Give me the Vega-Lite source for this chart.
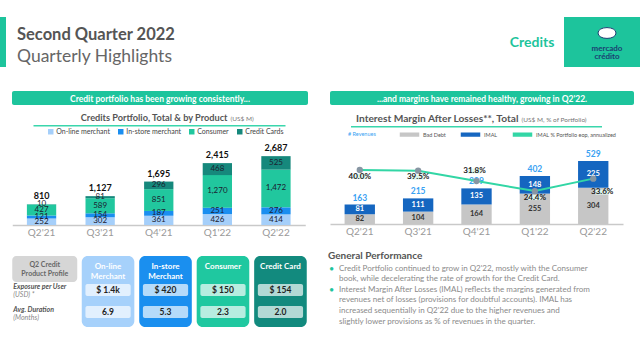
{
  "$schema": "https://vega.github.io/schema/vega-lite/v6.json",
  "padding": {"left": 0, "top": 17, "right": 0, "bottom": 0},
  "background": "white",
  "config": {"view": {"stroke": null}, "font": "Lato"},
  "resolve": {"scale": {"color": "independent", "fill": "independent"}, "legend": {"color": "independent", "fill": "independent"}},
  "spacing": 20,
  "vconcat": [
    {
      "spacing": 0,
      "resolve": {"scale": {"color": "independent", "fill": "independent"}, "legend": {"color": "independent", "fill": "independent"}},
      "hconcat": [
        {"width": 6, "height": 50, "view": {"fill": "#1dc49c", "stroke": null}, "data": {"values": [{}]}, "mark": {"type": "text"}, "encoding": {}},
        {
          "width": 494, "height": 50,
          "data": {"values": [{"t1": "Second Quarter 2022", "t2": "Quarterly Highlights"}]},
          "encoding": {"x": {"datum": 0, "type": "quantitative", "scale": {"domain": [0, 1]}, "axis": null}},
          "layer": [
            {"mark": {"type": "text", "align": "left", "baseline": "alphabetic", "fontSize": 16.5, "fontWeight": "bold", "color": "#555555", "dx": 11, "dy": -2}, "encoding": {"text": {"field": "t1"}}},
            {"mark": {"type": "text", "align": "left", "baseline": "alphabetic", "fontSize": 17.5, "color": "#666666", "dx": 11, "dy": 19.5}, "encoding": {"text": {"field": "t2"}}}
          ]
        },
        {"width": 64, "height": 50, "data": {"values": [{"t": "Credits"}]}, "mark": {"type": "text", "fontSize": 14, "fontWeight": "bold", "color": "#1dc49c", "dy": 1}, "encoding": {"text": {"field": "t"}}},
        {
          "width": 76, "height": 50, "view": {"fill": "#1dc49c", "stroke": null},
          "data": {"values": [{"a": "mercado", "b": "crédito"}]},
          "layer": [
            {"mark": {"type": "point", "shape": "M-1,0C-1,-0.8 1,-0.8 1,0C1,0.8 -1,0.8 -1,0Z", "size": 324, "filled": true, "color": "#ffffff", "stroke": "#1b3f72", "strokeWidth": 1, "opacity": 1, "yOffset": -9, "xOffset": 5}, "encoding": {}},
            {"mark": {"type": "text", "fontSize": 8, "fontWeight": "bold", "color": "#1b3f72", "dx": 5, "dy": 7}, "encoding": {"text": {"field": "a"}}},
            {"mark": {"type": "text", "fontSize": 8, "fontWeight": "bold", "color": "#1b3f72", "dx": 5, "dy": 14.5}, "encoding": {"text": {"field": "b"}}}
          ]
        }
      ]
    },
    {
      "spacing": 0,
      "resolve": {"scale": {"color": "independent", "fill": "independent"}, "legend": {"color": "independent", "fill": "independent"}},
      "hconcat": [
        {"width": 12, "height": 5, "data": {"values": [{}]}, "mark": {"type": "text"}, "encoding": {}},
        {
          "spacing": 20,
          "resolve": {"scale": {"color": "independent", "fill": "independent"}, "legend": {"color": "independent", "fill": "independent"}},
          "hconcat": [
            {
              "spacing": 9,
              "resolve": {"scale": {"color": "independent", "fill": "independent"}, "legend": {"color": "independent", "fill": "independent"}},
              "vconcat": [
                {"width": 296, "height": 14, "view": {"fill": "#1dc49c", "stroke": null, "cornerRadius": 2}, "data": {"values": [{"t": "Credit portfolio has been growing consistently..."}]}, "mark": {"type": "text", "color": "#ffffff", "fontWeight": "bold", "fontSize": 8.5, "dy": 0.5}, "encoding": {"text": {"field": "t"}}},
                {
                  "spacing": 1, "center": true,
                  "resolve": {"scale": {"color": "independent", "fill": "independent"}, "legend": {"color": "independent", "fill": "independent"}},
                  "vconcat": [
                    {
                      "width": 252, "height": 1.5, "view": {"fill": "#3ad6ac", "stroke": null},
                      "data": {"values": [{"a": "Credits Portfolio, Total & by Product", "b": "(US$ M)"}]},
                      "layer": [
                        {"mark": {"type": "text", "align": "right", "fontSize": 9.2, "fontWeight": "bold", "color": "#555555", "dx": 68, "dy": -7.5}, "encoding": {"text": {"field": "a"}}},
                        {"mark": {"type": "text", "align": "left", "fontSize": 6.5, "color": "#777777", "dx": 71, "dy": -7}, "encoding": {"text": {"field": "b"}}}
                      ]
                    },
                    {
                      "spacing": 19,
                      "resolve": {"scale": {"color": "independent", "fill": "independent"}, "legend": {"color": "independent", "fill": "independent"}},
                      "vconcat": [
                        {
                          "width": 293, "height": 82,
                          "encoding": {"x": {"field": "q", "type": "nominal", "title": null, "scale": {"domain": ["Q2'21", "Q3'21", "Q4'21", "Q1'22", "Q2'22"], "paddingInner": 0.5, "paddingOuter": 0.25}, "axis": {"labelAngle": 0, "labelColor": "#9a9a9a", "labelFontSize": 10, "labelPadding": 2, "ticks": false, "domainColor": "#c9c9c9", "domainWidth": 1.5, "grid": false}}},
                          "layer": [
                            {
                              "data": {"values": [
                                {"q": "Q2'21", "p": "On-line merchant", "k": 1, "v": 252},
                                {"q": "Q2'21", "p": "In-store merchant", "k": 2, "v": 121},
                                {"q": "Q2'21", "p": "Consumer", "k": 3, "v": 427},
                                {"q": "Q2'21", "p": "Credit Cards", "k": 4, "v": 10},
                                {"q": "Q3'21", "p": "On-line merchant", "k": 1, "v": 302},
                                {"q": "Q3'21", "p": "In-store merchant", "k": 2, "v": 154},
                                {"q": "Q3'21", "p": "Consumer", "k": 3, "v": 589},
                                {"q": "Q3'21", "p": "Credit Cards", "k": 4, "v": 81},
                                {"q": "Q4'21", "p": "On-line merchant", "k": 1, "v": 361},
                                {"q": "Q4'21", "p": "In-store merchant", "k": 2, "v": 187},
                                {"q": "Q4'21", "p": "Consumer", "k": 3, "v": 851},
                                {"q": "Q4'21", "p": "Credit Cards", "k": 4, "v": 296},
                                {"q": "Q1'22", "p": "On-line merchant", "k": 1, "v": 426},
                                {"q": "Q1'22", "p": "In-store merchant", "k": 2, "v": 251},
                                {"q": "Q1'22", "p": "Consumer", "k": 3, "v": 1270},
                                {"q": "Q1'22", "p": "Credit Cards", "k": 4, "v": 468},
                                {"q": "Q2'22", "p": "On-line merchant", "k": 1, "v": 414},
                                {"q": "Q2'22", "p": "In-store merchant", "k": 2, "v": 276},
                                {"q": "Q2'22", "p": "Consumer", "k": 3, "v": 1472},
                                {"q": "Q2'22", "p": "Credit Cards", "k": 4, "v": 525}
                              ]},
                              "layer": [
                                {
                                  "mark": {"type": "bar"},
                                  "encoding": {
                                    "y": {"field": "v", "type": "quantitative", "stack": "zero", "scale": {"domain": [0, 3200]}, "axis": null},
                                    "color": {"field": "p", "type": "nominal", "scale": {"domain": ["On-line merchant", "In-store merchant", "Consumer", "Credit Cards"], "range": ["#a5cffa", "#1a8ef0", "#21c79e", "#16887c"]},
                                      "legend": {"orient": "none", "legendX": 35, "legendY": -15, "direction": "horizontal", "title": null, "symbolType": "square", "symbolSize": 30, "labelFontSize": 7, "labelColor": "#444444", "columnPadding": 7, "labelOffset": 2}},
                                    "order": {"field": "k", "type": "quantitative"}
                                  }
                                },
                                {
                                  "mark": {"type": "text", "fontSize": 8, "color": "#1b2030"},
                                  "encoding": {
                                    "y": {"field": "v", "type": "quantitative", "stack": "zero", "bandPosition": 0.5, "scale": {"domain": [0, 3200]}, "axis": null},
                                    "detail": {"field": "p", "type": "nominal"},
                                    "order": {"field": "k", "type": "quantitative"},
                                    "text": {"field": "v", "type": "quantitative", "format": ","}
                                  }
                                }
                              ]
                            },
                            {
                              "data": {"values": [
                                {"q": "Q2'21", "t": 810}, {"q": "Q3'21", "t": 1127}, {"q": "Q4'21", "t": 1695}, {"q": "Q1'22", "t": 2415}, {"q": "Q2'22", "t": 2687}
                              ]},
                              "mark": {"type": "text", "fontSize": 9, "fontWeight": "bold", "color": "#111111", "baseline": "bottom", "dy": -3},
                              "encoding": {
                                "y": {"field": "t", "type": "quantitative", "scale": {"domain": [0, 3200]}, "axis": null},
                                "text": {"field": "t", "type": "quantitative", "format": ","}
                              }
                            }
                          ]
                        },
                        {
                          "spacing": 4.5,
                          "resolve": {"scale": {"color": "independent", "fill": "independent"}, "legend": {"color": "independent", "fill": "independent"}},
                          "hconcat": [
                            {
                              "spacing": 0,
                              "resolve": {"scale": {"color": "independent", "fill": "independent"}, "legend": {"color": "independent", "fill": "independent"}},
                              "vconcat": [
                                {"width": 65, "height": 26, "view": {"fill": "#d6d6d6", "stroke": null, "cornerRadius": 4}, "data": {"values": [{"t": "Q2 Credit\nProduct Profile"}]}, "mark": {"type": "text", "lineBreak": "\n", "fontSize": 7, "fontWeight": "bold", "color": "#666666", "lineHeight": 9, "dy": -4.5}, "encoding": {"text": {"field": "t"}}},
                                {
                                  "width": 65, "height": 41,
                                  "data": {"values": [{"r": "exp", "a": "Exposure per User", "b": "(USD) *"}, {"r": "dur", "a": "Avg. Duration", "b": "(Months)"}]},
                                  "encoding": {
                                    "x": {"datum": 0, "type": "quantitative", "scale": {"domain": [0, 1]}, "axis": null},
                                    "y": {"field": "r", "type": "nominal", "scale": {"type": "point", "domain": ["exp", "dur"], "padding": 0.41}, "axis": null}
                                  },
                                  "layer": [
                                    {"mark": {"type": "text", "align": "left", "fontSize": 7, "fontWeight": "bold", "fontStyle": "italic", "color": "#555555", "dx": 1, "dy": -4}, "encoding": {"text": {"field": "a"}}},
                                    {"mark": {"type": "text", "align": "left", "fontSize": 7, "fontStyle": "italic", "color": "#888888", "dx": 1, "dy": 4}, "encoding": {"text": {"field": "b"}}}
                                  ]
                                }
                              ]
                            },
                            {
                              "width": 225, "height": 71,
                              "encoding": {
                                "x": {"field": "c", "type": "nominal", "scale": {"domain": ["online", "instore", "consumer", "card"], "paddingInner": 0.085, "paddingOuter": 0}, "axis": null}
                              },
                              "layer": [
                                {
                                  "data": {"values": [
                                    {"c": "online", "r": "head", "name": "On-line\nMerchant"},
                                    {"c": "instore", "r": "head", "name": "In-store\nMerchant"},
                                    {"c": "consumer", "r": "head", "name": "Consumer"},
                                    {"c": "card", "r": "head", "name": "Credit Card"}
                                  ]},
                                  "layer": [
                                    {"mark": {"type": "rect", "cornerRadius": 6}, "encoding": {"color": {"field": "c", "type": "nominal", "scale": {"domain": ["online", "instore", "consumer", "card"], "range": ["#a6d1fb", "#1a8fef", "#1fc8a0", "#128a7e"]}, "legend": null}}},
                                    {"mark": {"type": "text", "lineBreak": "\n", "fontSize": 8, "fontWeight": "bold", "color": "#ffffff", "lineHeight": 10, "dy": -1.3},
                                      "encoding": {"y": {"field": "r", "type": "nominal", "scale": {"domain": ["head", "exp", "dur"], "paddingInner": 0.4545, "paddingOuter": 0.341, "align": 0.4}, "axis": null}, "text": {"field": "name"}}}
                                  ]
                                },
                                {
                                  "data": {"values": [
                                    {"c": "online", "r": "exp", "v": "$ 1.4k"}, {"c": "online", "r": "dur", "v": "6.9"},
                                    {"c": "instore", "r": "exp", "v": "$ 420"}, {"c": "instore", "r": "dur", "v": "5.3"},
                                    {"c": "consumer", "r": "exp", "v": "$ 150"}, {"c": "consumer", "r": "dur", "v": "2.3"},
                                    {"c": "card", "r": "exp", "v": "$ 154"}, {"c": "card", "r": "dur", "v": "2.0"}
                                  ]},
                                  "encoding": {"y": {"field": "r", "type": "nominal", "scale": {"domain": ["head", "exp", "dur"], "paddingInner": 0.4545, "paddingOuter": 0.341, "align": 0.4}, "axis": null}},
                                  "layer": [
                                    {"mark": {"type": "rect", "width": {"band": 0.86}, "cornerRadius": 2, "color": "#ffffff", "fillOpacity": 0.68}},
                                    {"mark": {"type": "text", "fontSize": 8.5, "fontWeight": "bold", "color": "#222222"}, "encoding": {"text": {"field": "v"}}}
                                  ]
                                }
                              ]
                            }
                          ]
                        }
                      ]
                    }
                  ]
                }
              ]
            },
            {
              "spacing": 9,
              "resolve": {"scale": {"color": "independent", "fill": "independent"}, "legend": {"color": "independent", "fill": "independent"}},
              "vconcat": [
                {"width": 304, "height": 14, "view": {"fill": "#1dc49c", "stroke": null, "cornerRadius": 2}, "data": {"values": [{"t": "...and margins have remained healthy, growing in Q2'22."}]}, "mark": {"type": "text", "color": "#ffffff", "fontWeight": "bold", "fontSize": 8.5, "dy": 0.5}, "encoding": {"text": {"field": "t"}}},
                {
                  "spacing": 1, "center": true,
                  "resolve": {"scale": {"color": "independent", "fill": "independent"}, "legend": {"color": "independent", "fill": "independent"}},
                  "vconcat": [
                    {
                      "width": 251, "height": 1.5, "view": {"fill": "#3ad6ac", "stroke": null},
                      "data": {"values": [{"a": "Interest Margin After Losses**, Total", "b": "(US$ M, % of Portfolio)"}]},
                      "layer": [
                        {"mark": {"type": "text", "align": "right", "fontSize": 10.2, "fontWeight": "bold", "color": "#555555", "dx": 42, "dy": -7.5}, "encoding": {"text": {"field": "a"}}},
                        {"mark": {"type": "text", "align": "left", "fontSize": 6.5, "color": "#777777", "dx": 45, "dy": -7}, "encoding": {"text": {"field": "b"}}}
                      ]
                    },
                    {
                      "spacing": 14,
                      "resolve": {"scale": {"color": "independent", "fill": "independent"}, "legend": {"color": "independent", "fill": "independent"}},
                      "vconcat": [
                        {
                          "width": 293, "height": 81,
                          "encoding": {"x": {"field": "q", "type": "nominal", "title": null, "scale": {"domain": ["Q2'21", "Q3'21", "Q4'21", "Q1'22", "Q2'22"], "paddingInner": 0.48, "paddingOuter": 0.25}, "axis": {"labelAngle": 0, "labelColor": "#9a9a9a", "labelFontSize": 10, "labelPadding": 2, "ticks": false, "domainColor": "#c9c9c9", "domainWidth": 1.5, "grid": false}}},
                          "resolve": {"scale": {"y": "independent"}, "axis": {"y": "independent"}},
                          "layer": [
                            {
                              "layer": [
                                {
                                  "data": {"values": [
                                    {"q": "Q2'21", "type": "Bad Debt", "k": 1, "v": 82}, {"q": "Q2'21", "type": "IMAL", "k": 2, "v": 81},
                                    {"q": "Q3'21", "type": "Bad Debt", "k": 1, "v": 104}, {"q": "Q3'21", "type": "IMAL", "k": 2, "v": 111},
                                    {"q": "Q4'21", "type": "Bad Debt", "k": 1, "v": 164}, {"q": "Q4'21", "type": "IMAL", "k": 2, "v": 135},
                                    {"q": "Q1'22", "type": "Bad Debt", "k": 1, "v": 255}, {"q": "Q1'22", "type": "IMAL", "k": 2, "v": 148},
                                    {"q": "Q2'22", "type": "Bad Debt", "k": 1, "v": 304}, {"q": "Q2'22", "type": "IMAL", "k": 2, "v": 225}
                                  ]},
                                  "layer": [
                                    {
                                      "mark": {"type": "bar"},
                                      "encoding": {
                                        "y": {"field": "v", "type": "quantitative", "stack": "zero", "scale": {"domain": [0, 680]}, "axis": null},
                                        "color": {"field": "type", "type": "nominal",
                                          "scale": {"domain": ["Bad Debt", "IMAL", "IMAL % Portfolio eop, annualized"], "range": ["#c6c6c6", "#1566c0", "#32d6a5"]},
                                          "legend": {"orient": "none", "legendX": 18, "legendY": -14, "direction": "horizontal", "title": "# Revenues", "titleOrient": "left", "titleColor": "#3aa2f3", "titleFontSize": 5.5, "titleFontWeight": "normal", "titlePadding": 28, "symbolType": "M-2,-0.3H2V0.3H-2Z", "symbolSize": 81, "labelFontSize": 5.5, "labelColor": "#555555", "columnPadding": 12, "labelOffset": 8}
                                        },
                                        "order": {"field": "k", "type": "quantitative"}
                                      }
                                    },
                                    {
                                      "mark": {"type": "text", "fontSize": 7.5, "fontWeight": "bold"},
                                      "encoding": {
                                        "y": {"field": "v", "type": "quantitative", "stack": "zero", "bandPosition": 0.5, "scale": {"domain": [0, 680]}, "axis": null},
                                        "detail": {"field": "type", "type": "nominal"},
                                        "order": {"field": "k", "type": "quantitative"},
                                        "fill": {"condition": {"test": "datum.type === 'IMAL'", "value": "#ffffff"}, "value": "#333333"},
                                        "text": {"field": "v", "type": "quantitative"}
                                      }
                                    }
                                  ]
                                },
                                {
                                  "data": {"values": [
                                    {"q": "Q2'21", "rev": 163}, {"q": "Q3'21", "rev": 215}, {"q": "Q4'21", "rev": 299}, {"q": "Q1'22", "rev": 402}, {"q": "Q2'22", "rev": 529}
                                  ]},
                                  "mark": {"type": "text", "fontWeight": "bold", "fontSize": 8.5, "baseline": "bottom", "dy": -2, "color": "#3aa2f3"},
                                  "encoding": {
                                    "y": {"field": "rev", "type": "quantitative", "scale": {"domain": [0, 680]}, "axis": null},
                                    "text": {"field": "rev", "type": "quantitative"}
                                  }
                                }
                              ]
                            },
                            {
                              "data": {"values": [
                                {"q": "Q2'21", "pct": 0.400}, {"q": "Q3'21", "pct": 0.395}, {"q": "Q4'21", "pct": 0.318}, {"q": "Q1'22", "pct": 0.244}, {"q": "Q2'22", "pct": 0.336}
                              ]},
                              "encoding": {"y": {"field": "pct", "type": "quantitative", "scale": {"domain": [0, 0.6]}, "axis": null}},
                              "layer": [
                                {"mark": {"type": "line", "strokeWidth": 2}, "encoding": {"color": {"datum": "IMAL % Portfolio eop, annualized"}}},
                                {"mark": {"type": "point", "filled": true, "size": 40, "color": "#8796a3", "opacity": 1}, "encoding": {}},
                                {"transform": [{"filter": "datum.q === \"Q2'21\" || datum.q === \"Q3'21\" || datum.q === \"Q1'22\""}],
                                  "layer": [
                                    {"mark": {"type": "point", "shape": "M-1.35,-0.5H1.35V0.5H-1.35Z", "size": 100, "filled": true, "color": "#dff6ee", "opacity": 1, "yOffset": 6.5}, "encoding": {}},
                                    {"mark": {"type": "text", "fontSize": 8, "fontWeight": "bold", "color": "#222222", "dy": 6.5}, "encoding": {"text": {"field": "pct", "type": "quantitative", "format": ".1%"}}}
                                  ]
                                },
                                {"transform": [{"filter": "datum.q === \"Q4'21\""}],
                                  "layer": [
                                    {"mark": {"type": "point", "shape": "M-1.35,-0.5H1.35V0.5H-1.35Z", "size": 100, "filled": true, "color": "#dff6ee", "opacity": 1, "yOffset": -10, "xOffset": -2}, "encoding": {}},
                                    {"mark": {"type": "text", "fontSize": 8, "fontWeight": "bold", "color": "#222222", "dy": -10, "dx": -2}, "encoding": {"text": {"field": "pct", "type": "quantitative", "format": ".1%"}}}
                                  ]
                                },
                                {"transform": [{"filter": "datum.q === \"Q2'22\""}],
                                  "layer": [
                                    {"mark": {"type": "point", "shape": "M-1.35,-0.5H1.35V0.5H-1.35Z", "size": 100, "filled": true, "color": "#dff6ee", "opacity": 1, "yOffset": 13.5, "xOffset": 9}, "encoding": {}},
                                    {"mark": {"type": "text", "fontSize": 8, "fontWeight": "bold", "color": "#222222", "dy": 13.5, "dx": 9}, "encoding": {"text": {"field": "pct", "type": "quantitative", "format": ".1%"}}}
                                  ]
                                }
                              ]
                            }
                          ]
                        },
                        {
                          "width": 293, "height": 63.6,
                          "data": {"values": [
                            {"ln": "h", "t": "General Performance", "b": 0},
                            {"ln": "l1", "t": "Credit Portfolio continued to grow in Q2'22, mostly with the Consumer", "b": 1},
                            {"ln": "l2", "t": "book, while decelerating the rate of growth for the Credit Card.", "b": 0},
                            {"ln": "l3", "t": "Interest Margin After Losses (IMAL) reflects the margins generated from", "b": 1},
                            {"ln": "l4", "t": "revenues net of losses (provisions for doubtful accounts). IMAL has", "b": 0},
                            {"ln": "l5", "t": "increased sequentially in Q2'22 due to the higher revenues and", "b": 0},
                            {"ln": "l6", "t": "slightly lower provisions as % of revenues in the quarter.", "b": 0}
                          ]},
                          "encoding": {
                            "x": {"datum": 0, "type": "quantitative", "scale": {"domain": [0, 1]}, "axis": null},
                            "y": {"field": "ln", "type": "nominal", "scale": {"type": "point", "domain": ["h", "l1", "l2", "l3", "l4", "l5", "l6"], "padding": 0}, "axis": null}
                          },
                          "layer": [
                            {"transform": [{"filter": "datum.ln === 'h'"}], "mark": {"type": "text", "align": "left", "fontSize": 10, "fontWeight": "bold", "color": "#555555", "dx": -2, "dy": -2.4}, "encoding": {"text": {"field": "t"}}},
                            {"transform": [{"filter": "datum.ln !== 'h'"}], "mark": {"type": "text", "align": "left", "fontSize": 8, "color": "#8a8a8a", "dx": 9}, "encoding": {"text": {"field": "t"}}},
                            {"transform": [{"filter": "datum.b === 1"}], "mark": {"type": "text", "align": "left", "fontSize": 9, "color": "#1dc49c", "dx": -1, "text": "•"}, "encoding": {}}
                          ]
                        }
                      ]
                    }
                  ]
                }
              ]
            }
          ]
        }
      ]
    }
  ]
}
